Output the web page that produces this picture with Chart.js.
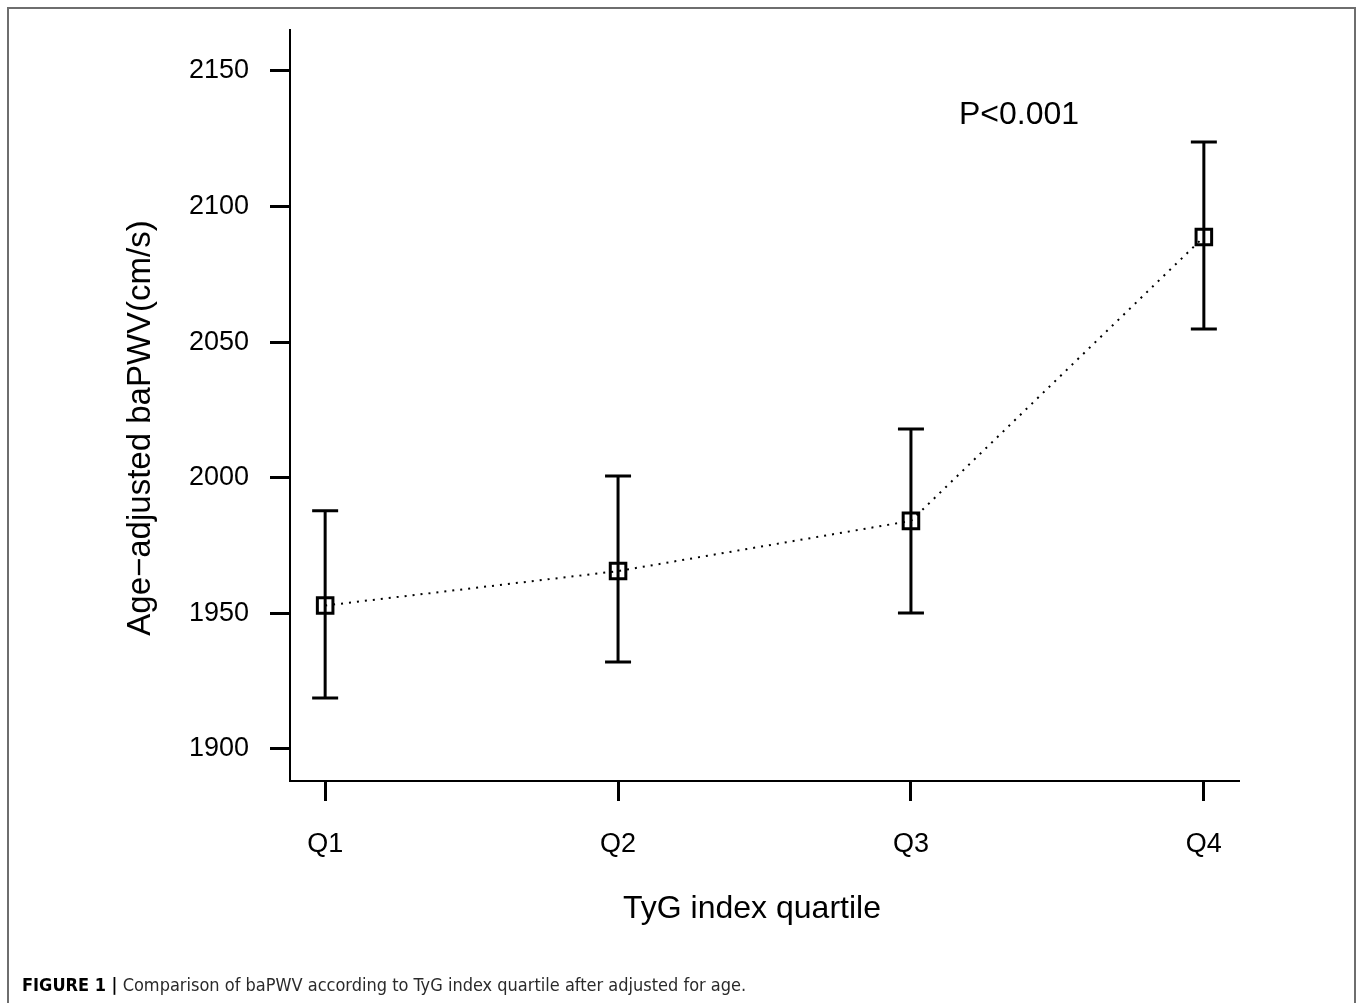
<!DOCTYPE html>
<html lang="en">
<head>
<meta charset="UTF-8">
<title>baPWV by TyG index quartile</title>
<script src="https://cdn.jsdelivr.net/npm/chart.js"></script>
<style>
    body { margin: 0; background: #fff; }
    #wrap { position: relative; width: 1358px; height: 1003px; overflow: hidden; }
    #frame {
        position: absolute; left: 7px; top: 7px; width: 1349px; height: 1100px;
        border: 2px solid #6e6e6e; box-sizing: border-box;
    }
    canvas { position: absolute; left: 0; top: 0; }
    #caption {
        position: absolute; left: 22px; top: 974px;
        font-family: 'Liberation Sans Narrow', 'DejaVu Sans Condensed', sans-serif;
        font-size: 18px; color: #2a2a2a; white-space: nowrap;
    }
    #caption b { color: #000; }
</style>
</head>
<body>
<div id="wrap">
    <div id="frame"></div>
    <canvas id="chart" width="1358" height="1003"></canvas>
    <div id="caption"><b>FIGURE 1 |</b> Comparison of baPWV according to TyG index quartile after adjusted for age.</div>
</div>
<script>
// values
const quartiles = ['Q1', 'Q2', 'Q3', 'Q4'];
const meanPWV  = [1952.9, 1965.6, 1984.1, 2088.8];
const lowerCI  = [1918.8, 1932.1, 1950.1, 2054.9];
const upperCI  = [1987.8, 2000.7, 2018.0, 2123.8];
const yTicks   = [1900, 1950, 2000, 2050, 2100, 2150];
const pText    = 'P<0.001';

const FONT = "'Liberation Sans', Arial, sans-serif";

// error bars + extra text
const extras = {
    id: 'extras',
    beforeDatasetsDraw(chart) {
        const ctx = chart.ctx, xs = chart.scales.x, ys = chart.scales.y;
        ctx.save();
        ctx.strokeStyle = '#000';
        ctx.lineWidth = 3;
        quartiles.forEach((q, i) => {
            const x = xs.getPixelForValue(i);
            const yl = ys.getPixelForValue(lowerCI[i]);
            const yu = ys.getPixelForValue(upperCI[i]);
            ctx.beginPath();
            ctx.moveTo(x, yl); ctx.lineTo(x, yu);
            ctx.moveTo(x - 13, yl); ctx.lineTo(x + 13, yl);
            ctx.moveTo(x - 13, yu); ctx.lineTo(x + 13, yu);
            ctx.stroke();
        });
        ctx.restore();
    },
    afterDraw(chart) {
        const ctx = chart.ctx;
        ctx.save();
        ctx.fillStyle = '#000';
        // P value
        ctx.font = '32px ' + FONT;
        ctx.textAlign = 'left';
        ctx.textBaseline = 'alphabetic';
        ctx.fillText(pText, 959, 124);
        // x title
        ctx.textAlign = 'center';
        ctx.fillText('TyG index quartile', 752, 918);
        // y title
        ctx.font = '33px ' + FONT;
        ctx.translate(150, 428);
        ctx.rotate(-Math.PI / 2);
        ctx.fillText('Age\u2212adjusted baPWV(cm/s)', 0, 0);
        ctx.restore();
    }
};

new Chart(document.getElementById('chart'), {
    type: 'line',
    data: {
        datasets: [{
            data: meanPWV.map((v, i) => ({ x: i, y: v })),
            borderColor: '#000',
            borderWidth: 2,
            borderDash: [2, 6],
            pointStyle: 'rect',
            pointRadius: 11,
            pointBorderWidth: 3,
            pointBorderColor: '#000',
            pointBackgroundColor: 'rgba(0,0,0,0)',
            tension: 0,
            clip: false
        }]
    },
    options: {
        responsive: false,
        devicePixelRatio: 1,
        animation: false,
        layout: { autoPadding: false, padding: { left: 0, top: 30, right: 119, bottom: 0 } },
        plugins: { legend: { display: false }, tooltip: { enabled: false } },
        scales: {
            x: {
                type: 'linear',
                min: -0.12,
                max: 3.12,
                afterBuildTicks: s => { s.ticks = quartiles.map((q, i) => ({ value: i })); },
                afterFit: s => { s.height = 222; s.paddingLeft = 0; s.paddingRight = 0; },
                border: { display: true, color: '#000', width: 2 },
                grid: { drawOnChartArea: false, drawTicks: true, tickLength: 20, tickWidth: 3, tickColor: '#000' },
                ticks: {
                    color: '#000', font: { family: FONT, size: 27 }, padding: 27,
                    maxRotation: 0, autoSkip: false,
                    callback: v => quartiles[v]
                }
            },
            y: {
                type: 'linear',
                min: 1888.2,
                max: 2165.1,
                afterBuildTicks: s => { s.ticks = yTicks.map(v => ({ value: v })); },
                afterFit: s => { s.width = 290; s.paddingTop = 0; s.paddingBottom = 0; },
                border: { display: true, color: '#000', width: 2 },
                grid: { drawOnChartArea: false, drawTicks: true, tickLength: 20, tickWidth: 3, tickColor: '#000' },
                ticks: { color: '#000', font: { family: FONT, size: 27 }, padding: 21, callback: v => String(v) }
            }
        }
    },
    plugins: [extras]
});
</script>
</body>
</html>
